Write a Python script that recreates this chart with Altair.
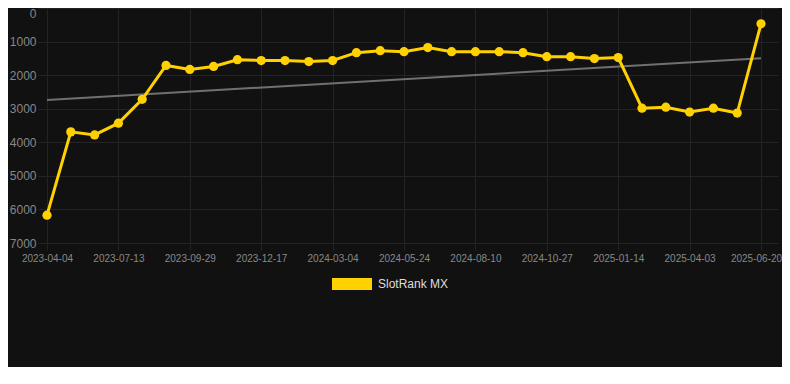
import json
import altair as alt
import pandas as pd

# ---- data ----
dates = [
    "2023-04-04", "2023-05-08", "2023-06-10", "2023-07-13", "2023-08-08",
    "2023-09-03", "2023-09-29", "2023-10-25", "2023-11-21", "2023-12-17",
    "2024-01-12", "2024-02-07", "2024-03-04", "2024-03-31", "2024-04-27",
    "2024-05-24", "2024-06-19", "2024-07-15", "2024-08-10", "2024-09-05",
    "2024-10-01", "2024-10-27", "2024-11-22", "2024-12-19", "2025-01-14",
    "2025-02-09", "2025-03-08", "2025-04-03", "2025-04-29", "2025-05-25",
    "2025-06-20",
]
ranks = [
    6170, 3690, 3780, 3430, 2720,
    1710, 1830, 1740, 1540, 1565,
    1565, 1595, 1565, 1330, 1270,
    1300, 1180, 1300, 1300, 1300,
    1330, 1450, 1450, 1505, 1475,
    2985, 2955, 3100, 2985, 3130,
    470,
]
trend_ends = [2740, 1500]
series_name = "SlotRank MX"
y_ticks = [0, 1000, 2000, 3000, 4000, 5000, 6000, 7000]

# ---- tables ----
n = len(dates)
df = pd.DataFrame({"idx": list(range(n)), "date": dates, "rank": ranks,
                   "series": [series_name] * n})
trend_df = pd.DataFrame({"idx": [0, n - 1], "rank": trend_ends})

tick_idx = list(range(0, n, 3))
tick_labels = [dates[i] for i in tick_idx]
label_expr = json.dumps(tick_labels) + "[round(datum.value / 3)]"

YELLOW = "#FFD100"
GRID = "#242424"
FONT = "Arial, Liberation Sans, sans-serif"

x = alt.X(
    "idx:Q",
    scale=alt.Scale(domain=[-0.378, 30.714], nice=False, zero=False),
    axis=alt.Axis(
        values=tick_idx, labelExpr=label_expr, title=None,
        grid=True, gridColor=GRID, domain=False,
        ticks=True, tickSize=7, tickColor=GRID,
        labelFontSize=10, labelColor="#888888", labelFont=FONT,
        labelPadding=3, labelFlush=False, labelOverlap=False,
        labelOffset={"condition": {"test": "datum.value === %d" % tick_idx[-1],
                                   "value": -5},
                     "value": 0},
    ),
)
y = alt.Y(
    "rank:Q",
    scale=alt.Scale(domain=[0, 7000], reverse=True, nice=False, zero=False),
    axis=alt.Axis(
        values=y_ticks, title=None, format="d", grid=True, gridColor=GRID,
        domain=False, ticks=False, labelFontSize=12, labelColor="#888888",
        labelFont=FONT, labelPadding=2,
        labelBaseline={"condition": {"test": "datum.value === 0", "value": "top"},
                       "value": "middle"},
    ),
)

color = alt.Color(
    "series:N",
    scale=alt.Scale(domain=[series_name], range=[YELLOW]),
    legend=alt.Legend(
        title=None, orient="none", legendX=294, legendY=256,
        symbolType="M-1,-0.3H1V0.3H-1Z", symbolSize=1600,
        symbolFillColor=YELLOW, symbolStrokeWidth=0, symbolOpacity=1,
        labelFontSize=12, labelColor="#dddddd", labelFont=FONT,
        labelOffset=6, padding=0,
    ),
)

trend = alt.Chart(trend_df).mark_line(color="#707070", strokeWidth=2).encode(
    x=x, y=y)
line = alt.Chart(df).mark_line(strokeWidth=3).encode(x=x, y=y, color=color)
pts = alt.Chart(df).mark_circle(size=85, opacity=1).encode(x=x, y=y, color=color)

chart = (
    alt.layer(trend, line, pts)
    .properties(width=740, height=235,
                autosize=alt.AutoSizeParams(type="none"),
                padding={"left": 30, "top": 0, "right": 4, "bottom": 124})
    .configure(background="#111111")
    .configure_view(stroke=None)
)

chart.save("out.html", embed_options={"renderer": "svg", "actions": False})
